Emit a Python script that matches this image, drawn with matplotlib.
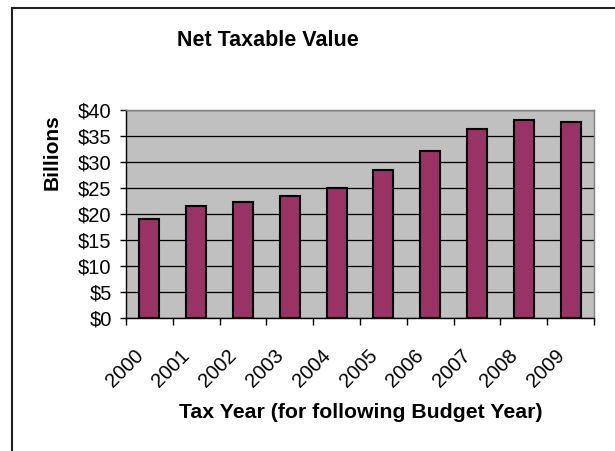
import matplotlib
matplotlib.use("Agg")
import matplotlib.pyplot as plt
import matplotlib.transforms as mtransforms
import numpy as np
from matplotlib.patches import Rectangle

years = ["2000", "2001", "2002", "2003", "2004", "2005", "2006", "2007", "2008", "2009"]
values = [19.0, 21.5, 22.3, 23.5, 25.0, 28.4, 32.2, 36.3, 38.0, 37.6]
yticks = [0, 5, 10, 15, 20, 25, 30, 35, 40]
ytick_labels = ["$0", "$5", "$10", "$15", "$20", "$25", "$30", "$35", "$40"]

plt.rcParams['font.family'] = ['Liberation Sans', 'DejaVu Sans']

W, H = 615, 451
fig = plt.figure(figsize=(W / 100, H / 100), dpi=100)
fig.patch.set_facecolor("white")

# chart frame (cut off at right/bottom)
fig.patches.append(Rectangle((12 / W, -0.1), 1.2, (H - 8) / H + 0.1, transform=fig.transFigure,
                             fill=False, edgecolor="#202020", linewidth=1.5))

left, right, top, bottom = 126, 594, 110, 318
ax = fig.add_axes([left / W, 1 - bottom / H, (right - left) / W, (bottom - top) / H])
ax.set_facecolor("#C0C0C0")

x = np.arange(len(years))
ax.bar(x, values, width=0.43, color="#993366", edgecolor="black", linewidth=1.5, zorder=3)

ax.set_xlim(-0.5, len(years) - 0.5)
ax.set_ylim(0, 40)
ax.set_yticks(yticks)
ax.set_yticklabels(ytick_labels, fontsize=14.5)
ax.yaxis.grid(True, color="black", linewidth=0.9, zorder=1)
ax.set_axisbelow(True)

ax.set_xticks(x)
ax.set_xticklabels(years, rotation=45, ha="right", va="top", rotation_mode="anchor", fontsize=14.5)
ax.tick_params(axis="x", which="major", length=0, pad=20)
offset = mtransforms.ScaledTranslation(-16 / 100, 0, fig.dpi_scale_trans)
for lab in ax.get_xticklabels():
    lab.set_transform(lab.get_transform() + offset)
ax.set_xticks(np.arange(-0.5, len(years) + 0.5, 1), minor=True)
ax.tick_params(axis="x", which="minor", length=5, width=1, color="black", direction="out")
ax.tick_params(axis="y", length=4.3, width=1, color="black", direction="out", pad=6)

for s in ["top", "right"]:
    ax.spines[s].set_color("#808080")
    ax.spines[s].set_linewidth(1)
for s in ["left", "bottom"]:
    ax.spines[s].set_color("black")
    ax.spines[s].set_linewidth(1)

fig.text(268 / W, 1 - 40 / H, "Net Taxable Value", ha="center", va="center",
         fontsize=15.5, fontweight="bold")
fig.text(361 / W, 1 - 413 / H, "Tax Year (for following Budget Year)", ha="center", va="center",
         fontsize=15.3, fontweight="bold")
fig.text(52 / W, 1 - 152 / H, "Billions", ha="center", va="center", rotation=90,
         fontsize=15, fontweight="bold")

fig.savefig("out.png", dpi=100)
